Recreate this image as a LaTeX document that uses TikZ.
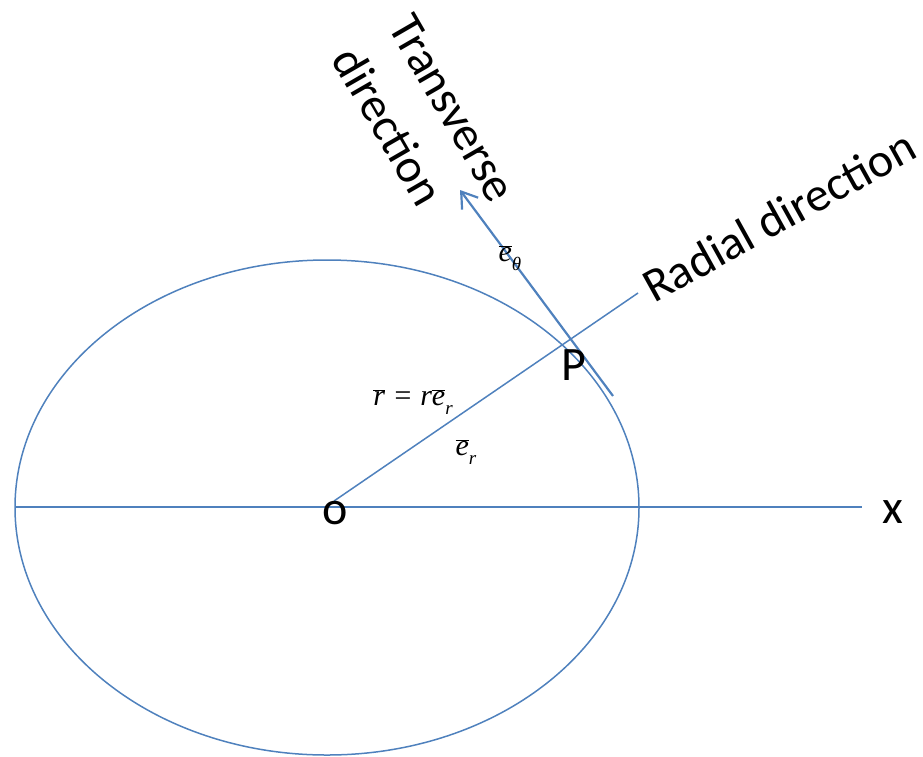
\RequirePackage{fix-cm}
\documentclass[tikz,border=0pt]{standalone}
\usepackage{fontspec}
\setmainfont{Carlito}
\newfontfamily\labelserif{Liberation Serif}
\usepackage{tikz}
\usetikzlibrary{arrows.meta}
\definecolor{orbitblue}{RGB}{79,129,189}
% barred vector letter in the label font
\newcommand{\barred}[1]{$\overline{\hbox{#1}}$}
\newcommand{\lowidx}[1]{\raisebox{-.3em}{\fontsize{19}{21}\selectfont #1}}

\begin{document}
\begin{tikzpicture}[x=1pt, y=-1pt, font=\fontsize{48}{65}\selectfont,
    orbitline/.style={orbitblue, line width=1.5pt},
    vecline/.style={orbitblue, line width=2.2pt, -{Straight Barb[length=15pt, width=20pt, line width=2.2pt]}},
    mathlabel/.style={font=\fontsize{30}{34}\selectfont\labelserif\itshape, inner sep=0pt}]

    % ==========================================
    % PARAMETERS & COORDINATES
    % ==========================================

    % ellipse radii (picture units are pixels of the sketch)
    \def\rx{312}
    \def\ry{247.5}

    \useasboundingbox (0,0) rectangle (923,756);

    \coordinate (C) at (327,507.5);        % centre of the ellipse
    \coordinate (O) at (334,501);          % origin of the radius vector
    \coordinate (X_left)  at (15,507);
    \coordinate (X_right) at (862,507);
    \coordinate (R_end)   at (638,293);    % end of the radial line
    \coordinate (T_start) at (613,396);    % foot of the transverse vector
    \coordinate (T_tip)   at (460,190);    % tip of the transverse vector

    % ==========================================
    % ELLIPSE & AXIS
    % ==========================================

    \draw[orbitline] (C) ellipse [x radius=\rx, y radius=\ry];
    \draw[orbitline] (X_left) -- (X_right);

    % ==========================================
    % RADIAL LINE & TRANSVERSE VECTOR
    % ==========================================

    \draw[orbitline] (O) -- (R_end);
    \draw[vecline] (T_start) -- (T_tip);

    % ==========================================
    % LABELS
    % ==========================================

    \node[anchor=base, inner sep=0pt] (xlab) at (893,523) {x};
    \node[anchor=base, inner sep=0pt] (olab) at (335,524) {o};
    \node[anchor=base, inner sep=0pt] (plab) at (574,380) {P};

    \node[mathlabel] (rvec) at (413,402) {\barred{r} = r\barred{e}\lowidx{r}};
    \node[mathlabel] (er)   at (466,452) {\barred{e}\lowidx{r}};
    \node[mathlabel] (eth)  at (510,258) {\barred{e}\lowidx{θ}};

    % direction labels, turned along the two lines
    \node[anchor=base west, inner sep=0pt, rotate=29] (radial) at (654,304) {Radial direction};
    \node[anchor=north west, inner sep=0pt, align=left, rotate=-60] (transverse) at (414,11)
        {Transverse\\direction};

\end{tikzpicture}
\end{document}
